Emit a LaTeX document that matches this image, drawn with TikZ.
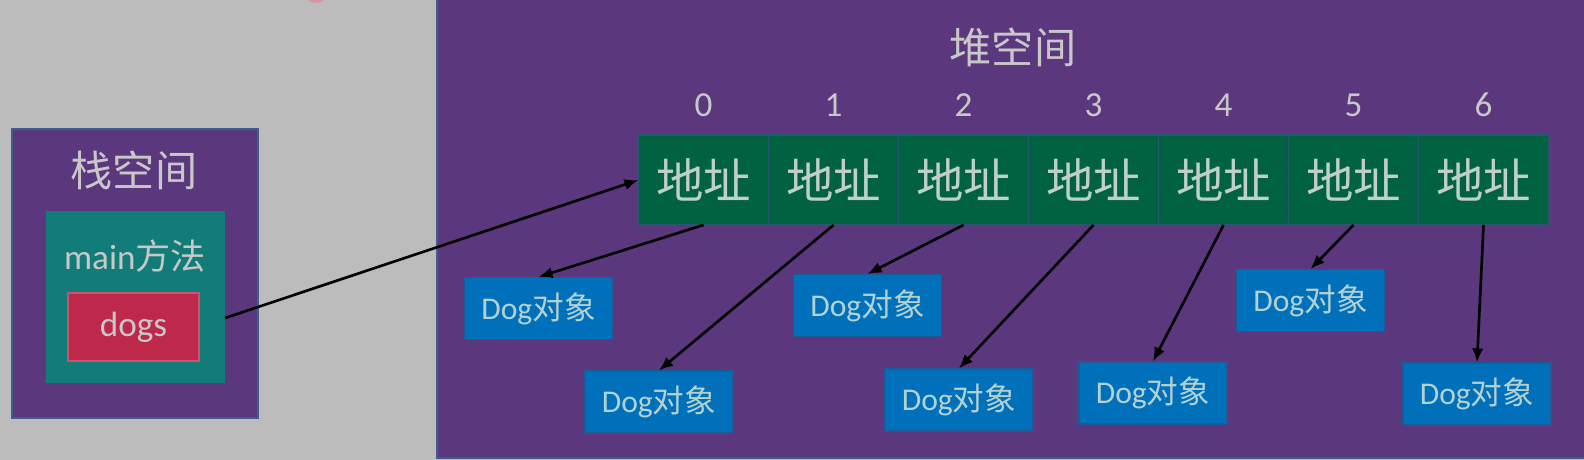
\documentclass[tikz,border=0pt]{standalone}
\usepackage{fontspec}
\setmainfont{Carlito}
\newfontfamily\cjk{Noto Sans CJK SC}
\usetikzlibrary{arrows.meta, positioning}

\definecolor{bggray}{RGB}{188,188,188}
\definecolor{heappurple}{RGB}{91,55,126}
\definecolor{frameblue}{RGB}{62,92,140}
\definecolor{mainteal}{RGB}{18,125,120}
\definecolor{dogsred}{RGB}{190,40,75}
\definecolor{cellgreen}{RGB}{0,98,64}
\definecolor{cellline}{RGB}{40,88,110}
\definecolor{objblue}{RGB}{0,112,186}
\definecolor{objline}{RGB}{30,90,150}
\definecolor{lighttext}{RGB}{200,200,200}
\definecolor{celltext}{RGB}{190,208,200}
\definecolor{objtext}{RGB}{178,210,210}
\definecolor{blobpink}{RGB}{212,150,160}

\begin{document}
\begin{tikzpicture}[x=0.2mm, y=-0.2mm,
    title/.style={text=lighttext, font=\cjk\fontsize{24}{26}\selectfont},
    cell/.style={draw=cellline, fill=cellgreen, line width=0.6pt, outer sep=0pt,
        minimum width=26mm, minimum height=18mm, text=celltext,
        font=\cjk\fontsize{27}{30}\selectfont},
    idx/.style={text=lighttext, font=\fontsize{20}{22}\selectfont},
    dogobj/.style={draw=objline, fill=objblue, line width=0.6pt,
        minimum width=29.6mm, minimum height=12.4mm, text=objtext,
        font=\fontsize{18}{20}\selectfont},
    ptr/.style={-{Latex[length=8pt, width=6.5pt]}, line width=1.5pt, black}]

    \useasboundingbox (0,0) rectangle (1584,460);
    \fill[bggray] (0,0) rectangle (1584,460);
    \fill[blobpink] (316,-3) ellipse (9 and 6);

    \filldraw[fill=heappurple, draw=frameblue, line width=1pt] (12,129) rectangle (258,418);
    \node[title] (stacktitle) at (134,170) {栈空间};
    \node[fill=mainteal, minimum width=35.8mm, minimum height=34.4mm] (main) at (135.5,297) {};
    \node[text=lighttext, font=\fontsize{20}{22}\selectfont] (maintext) at (135,256) {main\cjk 方法};
    \node[draw=dogsred!80!white, fill=dogsred, line width=0.6pt, minimum width=26.2mm, minimum height=13.6mm,
        text=lighttext, font=\fontsize{20}{22}\selectfont] (dogs) at (133.5,327) {dogs};

    \filldraw[fill=heappurple, draw=frameblue, line width=1pt] (437,-10) rectangle (1600,458);
    \node[title] (heaptitle) at (1013,47) {堆空间};

    \node[cell] (c0) at (703.5,180) {地址};
    \foreach \i [count=\j from 0] in {1,...,6}
        \node[cell, right=0pt of c\j] (c\i) {地址};
    \foreach \i in {0,...,6}
        \path (c\i.north) ++(0,-30) node[idx] (n\i) {\i};

    \node[dogobj] (d0) at (538.5,308.5) {Dog\cjk 对象};
    \node[dogobj] (d1) at (659,402) {Dog\cjk 对象};
    \node[dogobj] (d2) at (867.5,305.5) {Dog\cjk 对象};
    \node[dogobj] (d3) at (959,400) {Dog\cjk 对象};
    \node[dogobj] (d4) at (1153,393) {Dog\cjk 对象};
    \node[dogobj] (d5) at (1310.5,300.5) {Dog\cjk 对象};
    \node[dogobj] (d6) at (1477,394) {Dog\cjk 对象};

    \coordinate (ref) at (225,318);
    \draw[ptr] (ref) -- (c0.west);
    \foreach \i in {0,...,6}
        \draw[ptr] (c\i.south) -- (d\i.north);
\end{tikzpicture}
\end{document}
